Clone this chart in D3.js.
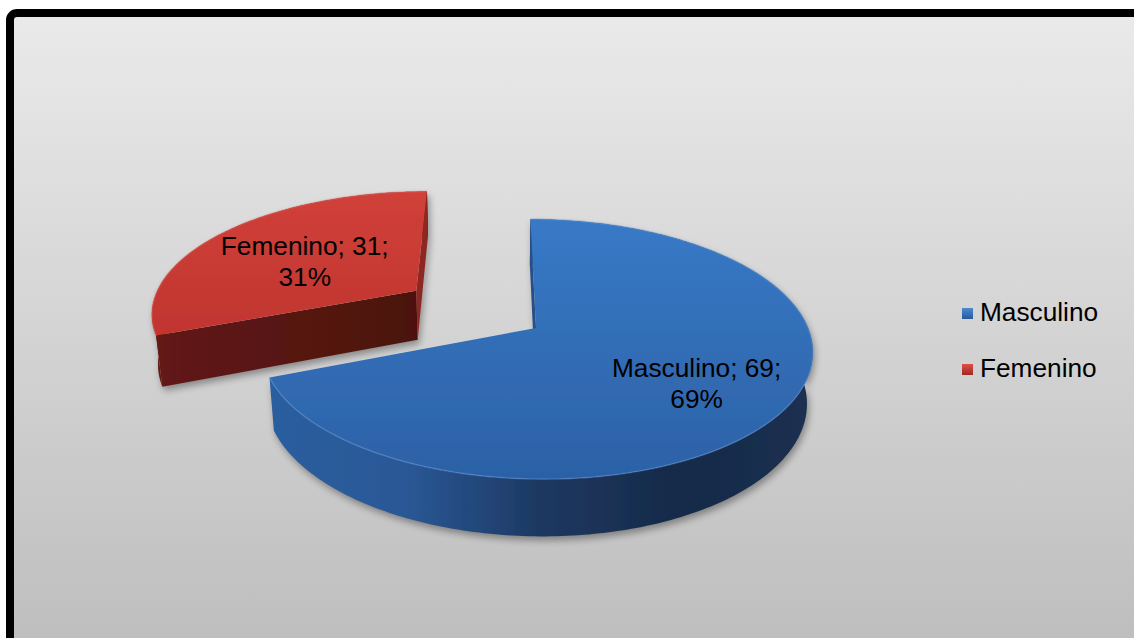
<!DOCTYPE html>
<html>
<head>
<meta charset="utf-8">
<script src="https://cdn.jsdelivr.net/npm/d3@7"></script>
<style>
  html, body { margin: 0; padding: 0; background: #ffffff; overflow: hidden; }
  text { font-family: "Liberation Sans", Arial, sans-serif; }
</style>
</head>
<body>
<svg id="chart" width="1134" height="638"></svg>
<script>
// ---- data ----
const categories = ["Masculino", "Femenino"];
const values = [69, 31];

// ---- styling per slice ----
const explodeOffsets = [0, 0.55];          // in units of the pie radius
const topColors  = [["#3879c6", "#2c61a6"], ["#d0403a", "#c1352f"]];
const sideColors = [["#2c5e9f", "#2a5896", "#1d3861", "#172a48", "#1b3050"], ["#631a15", "#4a110e"]];
const cutColors  = ["#284f88", "#8e2621"];
const rimColors  = ["#5b93d6", "#e2605a"];
const legendColors = [["#4c8ad2", "#28589a"], ["#e24c46", "#9e2a25"]];

const W = 1134, H = 638;
const svg = d3.select("#chart");
const defs = svg.append("defs");

// ---- background panel with thick black border ----
const bg = defs.append("linearGradient").attr("id", "bg")
  .attr("x1", 0).attr("y1", 0).attr("x2", 0).attr("y2", 1);
bg.append("stop").attr("offset", "0%").attr("stop-color", "#eaeaea");
bg.append("stop").attr("offset", "100%").attr("stop-color", "#bcbcbc");

svg.append("rect")
  .attr("x", 10).attr("y", 13)
  .attr("width", W + 20).attr("height", H + 20)
  .attr("rx", 7)
  .attr("fill", "url(#bg)")
  .attr("stroke", "#000").attr("stroke-width", 8);

// ---- 3D projection of the pie (perspective, tilted) ----
const cam = { cx: 536, cy: 328, R: 272, sinA: 0.465, dist: 5.43, camX: -0.147 };
const cosA = Math.sqrt(1 - cam.sinA * cam.sinA);
const thickness = 0.215;

function project(X, Y, Z) {
  const xp = X - cam.camX;
  const yp = Y * cosA - Z * cam.sinA;
  const zp = Y * cam.sinA + Z * cosA;
  const p = 1 / (1 - zp / cam.dist);
  return [cam.cx + cam.R * cam.camX + cam.R * xp * p, cam.cy - cam.R * yp * p];
}
const camPos = [cam.camX, cam.dist * cam.sinA, cam.dist * cosA];

const pie = d3.pie().sort(null).value(d => d)
  .startAngle(0).endAngle(2 * Math.PI);
const arcs = pie(values);
const total = d3.sum(values);
const pct = d3.format(".0%");

const poly = d3.line().curve(d3.curveLinearClosed);

function sliceGeom(a, i) {
  const mid = (a.startAngle + a.endAngle) / 2;
  const e = explodeOffsets[i];
  const ox = e * Math.sin(mid), oz = -e * Math.cos(mid);
  const pt = (ang, rho, Y) => [ox + rho * Math.sin(ang), Y, oz - rho * Math.cos(ang)];
  const n = Math.max(8, Math.ceil((a.endAngle - a.startAngle) / (Math.PI / 180)));
  const angs = d3.range(n + 1).map(k => a.startAngle + (a.endAngle - a.startAngle) * k / n);
  const topArc = angs.map(g => project(...pt(g, 1, 0)));
  const botArc = angs.map(g => project(...pt(g, 1, -thickness)));
  const O = project(...pt(0, 0, 0)), Ob = project(...pt(0, 0, -thickness));
  const cut = (ang) => [O, project(...pt(ang, 1, 0)), project(...pt(ang, 1, -thickness)), Ob];
  // a cut face is drawn only when its outward normal faces the camera
  const facing = (ang, sign) => {
    const nx = sign * Math.cos(ang), nz = sign * Math.sin(ang);
    const P = pt(ang, 0.5, -thickness / 2);
    return nx * (camPos[0] - P[0]) + nz * (camPos[2] - P[2]) > 0;
  };
  return {
    mid, ox, oz, topArc,
    side: topArc.concat(botArc.slice().reverse()),
    top: [O].concat(topArc),
    cuts: [
      { pts: cut(a.startAngle), vis: facing(a.startAngle, -1) },
      { pts: cut(a.endAngle), vis: facing(a.endAngle, 1) }
    ]
  };
}

const geoms = arcs.map(sliceGeom);

// gradients
geoms.forEach((g, i) => {
  const ys = g.top.map(p => p[1]), xs = g.side.map(p => p[0]);
  const tg = defs.append("linearGradient").attr("id", "top" + i)
    .attr("gradientUnits", "userSpaceOnUse")
    .attr("x1", 0).attr("x2", 0).attr("y1", d3.min(ys)).attr("y2", d3.max(ys));
  tg.append("stop").attr("offset", "0%").attr("stop-color", topColors[i][0]);
  tg.append("stop").attr("offset", "100%").attr("stop-color", topColors[i][1]);

  const sg = defs.append("linearGradient").attr("id", "side" + i)
    .attr("gradientUnits", "userSpaceOnUse")
    .attr("y1", 0).attr("y2", 0).attr("x1", d3.min(xs)).attr("x2", d3.max(xs));
  sideColors[i].forEach((c, k, arr) =>
    sg.append("stop").attr("offset", (100 * k / (arr.length - 1)) + "%").attr("stop-color", c));
});

// soft drop shadow under the pie, and a slight softening of the pie edges
const blur = defs.append("filter").attr("id", "shadow")
  .attr("x", "-20%").attr("y", "-20%").attr("width", "140%").attr("height", "140%");
blur.append("feGaussianBlur").attr("stdDeviation", 3.5);
const soft = defs.append("filter").attr("id", "soft")
  .attr("x", "-5%").attr("y", "-5%").attr("width", "110%").attr("height", "110%");
soft.append("feGaussianBlur").attr("stdDeviation", 0.6);

const shadow = svg.append("g").attr("filter", "url(#shadow)")
  .attr("transform", "translate(2,4)").attr("opacity", 0.35);
geoms.forEach(g => {
  shadow.append("path").attr("d", poly(g.side)).attr("fill", "#000");
  g.cuts.filter(c => c.vis).forEach(c =>
    shadow.append("path").attr("d", poly(c.pts)).attr("fill", "#000"));
});

// draw slices back to front: the exploded slice sits behind
const order = d3.range(geoms.length).sort((a, b) => geoms[a].oz - geoms[b].oz);
const pieG = svg.append("g").attr("filter", "url(#soft)");
order.forEach(i => {
  const g = geoms[i];
  const sg = pieG.append("g").attr("class", "slice");
  sg.append("path").attr("d", poly(g.side)).attr("fill", `url(#side${i})`);
  g.cuts.forEach((c, k) => {
    if (!c.vis) return;
    sg.append("path").attr("d", poly(c.pts))
      .attr("fill", k === 0 && i === 1 ? `url(#side${i})` : cutColors[i]);
  });
  sg.append("path").attr("d", poly(g.top)).attr("fill", `url(#top${i})`);
  sg.append("path").attr("d", d3.line()(g.topArc))
    .attr("fill", "none").attr("stroke", rimColors[i])
    .attr("stroke-width", 1.6).attr("stroke-opacity", 0.45);
});

// ---- data labels ----
const labelFrac = i => explodeOffsets[i] > 0 ? 0.565 : 0.66;
arcs.forEach((a, i) => {
  const g = geoms[i];
  const f = labelFrac(i);
  const [lx, ly] = project(g.ox + f * Math.sin(g.mid), 0, g.oz - f * Math.cos(g.mid));
  const lines = [`${categories[i]}; ${values[i]};`, pct(values[i] / total)];
  lines.forEach((s, k) => {
    svg.append("text")
      .attr("transform", `translate(${lx},${ly - 1 + k * 31}) scale(1.05,1)`)
      .attr("text-anchor", "middle")
      .attr("font-size", 25).attr("fill", "#000")
      .text(s);
  });
});

// ---- legend ----
const legend = svg.append("g").attr("transform", "translate(962,308)");
categories.forEach((c, i) => {
  const lg = defs.append("linearGradient").attr("id", "leg" + i)
    .attr("x1", 0).attr("x2", 0).attr("y1", 0).attr("y2", 1);
  lg.append("stop").attr("offset", "0%").attr("stop-color", legendColors[i][0]);
  lg.append("stop").attr("offset", "100%").attr("stop-color", legendColors[i][1]);
  const row = legend.append("g").attr("transform", `translate(0,${i * 56})`);
  row.append("rect").attr("width", 11).attr("height", 11)
    .attr("fill", `url(#leg${i})`);
  row.append("text")
    .attr("transform", "translate(18,13) scale(1.05,1)")
    .attr("font-size", 25).attr("fill", "#000")
    .text(c);
});
</script>
</body>
</html>
